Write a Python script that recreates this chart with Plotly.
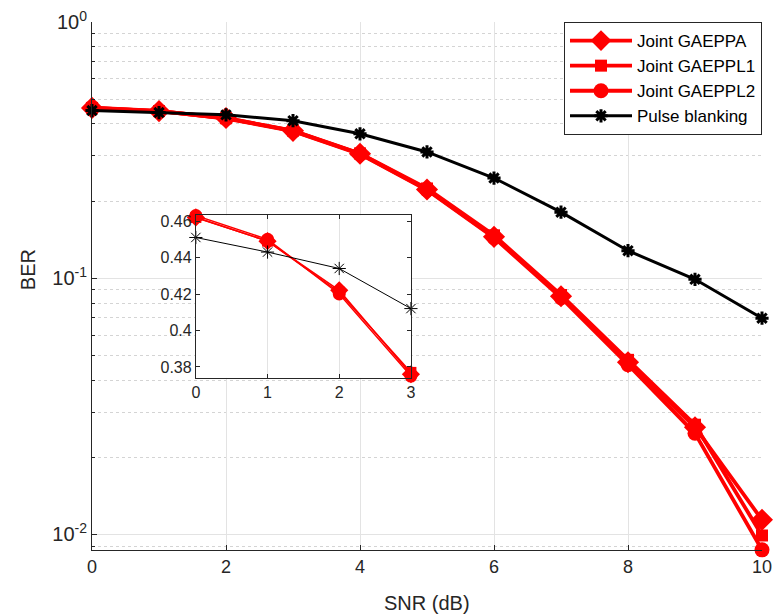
import plotly.graph_objects as go

snr = [0, 1, 2, 3, 4, 5, 6, 7, 8, 9, 10]
ber_gaeppa = [0.462, 0.449, 0.422, 0.376, 0.306, 0.222, 0.145, 0.085, 0.047, 0.0262, 0.0114]
ber_gaeppl1 = [0.462, 0.449, 0.421, 0.377, 0.307, 0.224, 0.147, 0.086, 0.048, 0.0268, 0.0099]
ber_gaeppl2 = [0.463, 0.450, 0.420, 0.375, 0.305, 0.221, 0.144, 0.084, 0.046, 0.0248, 0.0087]
ber_blank = [0.451, 0.443, 0.434, 0.412, 0.366, 0.311, 0.246, 0.181, 0.128, 0.099, 0.0698]

names = ["Joint GAEPPA", "Joint GAEPPL1", "Joint GAEPPL2", "Pulse blanking"]
series = [ber_gaeppa, ber_gaeppl1, ber_gaeppl2, ber_blank]
symbols = ["diamond", "square", "circle", "asterisk-open"]
colors = ["#ff0000", "#ff0000", "#ff0000", "#000000"]
main_sizes = [17, 12, 15, 11]
inset_sizes = [14, 11, 13, 11]

y_major = [1, 0.1, 0.01]
y_major_text = ["10<sup>0</sup>", "10<sup>-1</sup>", "10<sup>-2</sup>"]
y_minor = [m * d for d in (0.001, 0.01, 0.1) for m in range(2, 10)]
x_ticks = [0, 2, 4, 6, 8, 10]
inset_x_ticks = [0, 1, 2, 3]
inset_y_ticks = [0.38, 0.40, 0.42, 0.44, 0.46]
inset_y_text = ["0.38", "0.4", "0.42", "0.44", "0.46"]

fig = go.Figure()

for name, ys, sym, col, sz in zip(names, series, symbols, colors, main_sizes):
    is_black = col == "#000000"
    fig.add_trace(go.Scatter(
        x=snr, y=ys, name=name, mode="lines+markers", cliponaxis=False,
        line=dict(color=col, width=3 if is_black else 3.8),
        marker=dict(symbol=sym, size=sz, color=col,
                    line=dict(color=col, width=3 if is_black else 0)),
        xaxis="x", yaxis="y",
    ))

for name, ys, sym, col, sz in zip(names, series, symbols, colors, inset_sizes):
    is_black = col == "#000000"
    fig.add_trace(go.Scatter(
        x=snr[:4], y=ys[:4], name=name, mode="lines+markers", showlegend=False,
        cliponaxis=False,
        line=dict(color=col, width=1 if is_black else 1.5),
        marker=dict(symbol=sym, size=sz, color=col,
                    line=dict(color=col, width=1 if is_black else 0)),
        xaxis="x2", yaxis="y2",
    ))

axis_col = "#262626"
grid_col = "#e3e3e3"
font_family = "Liberation Sans, Arial, sans-serif"

fig.update_layout(
    width=773, height=614,
    margin=dict(l=92, r=11, t=22, b=64),
    paper_bgcolor="white", plot_bgcolor="white",
    font=dict(family=font_family, color=axis_col, size=18),
    xaxis=dict(
        domain=[0, 1], range=[0, 10], tickvals=x_ticks, automargin=False,
        showline=True, linecolor=axis_col, linewidth=1,
        ticks="inside", ticklen=5, tickcolor=axis_col,
        showgrid=True, gridcolor=grid_col, gridwidth=1, zeroline=False,
        tickfont=dict(size=18),
    ),
    yaxis=dict(
        domain=[0, 1], type="log", range=[-2.061, 0], automargin=False,
        tickvals=y_major, ticktext=y_major_text,
        showline=True, linecolor=axis_col, linewidth=1,
        ticks="inside", ticklen=5, tickcolor=axis_col,
        showgrid=True, gridcolor=grid_col, gridwidth=1, zeroline=False,
        minor=dict(tickmode="array", tickvals=y_minor, showgrid=True,
                   gridcolor="#d4d4d4", griddash="dot", gridwidth=1,
                   ticks="inside", ticklen=3, tickcolor=axis_col),
        tickfont=dict(size=20),
    ),
    xaxis2=dict(
        domain=[0.155, 0.476], anchor="y2", range=[0, 3], tickvals=inset_x_ticks,
        automargin=False,
        showline=True, mirror="ticks", linecolor=axis_col, linewidth=1,
        ticks="inside", ticklen=4, tickcolor=axis_col,
        showgrid=True, gridcolor=grid_col, zeroline=False,
        tickfont=dict(size=16),
    ),
    yaxis2=dict(
        domain=[0.326, 0.634], anchor="x2", range=[0.374, 0.4632],
        tickvals=inset_y_ticks, ticktext=inset_y_text, automargin=False,
        showline=True, mirror="ticks", linecolor=axis_col, linewidth=1,
        ticks="inside", ticklen=4, tickcolor=axis_col,
        showgrid=False, zeroline=False,
        tickfont=dict(size=16),
    ),
    legend=dict(
        x=1, y=1, xanchor="right", yanchor="top",
        bgcolor="white", bordercolor=axis_col, borderwidth=1,
        font=dict(size=17, color="#000000"),
        tracegroupgap=0, itemwidth=62,
    ),
    shapes=[dict(type="rect", xref="x2 domain", yref="y2 domain",
                 x0=0, x1=1, y0=0, y1=1, fillcolor="white",
                 line=dict(width=0), layer="below")],
    annotations=[
        dict(text="SNR (dB)", xref="paper", yref="paper", x=0.5, y=0,
             xanchor="center", yanchor="middle", yshift=-53, showarrow=False,
             font=dict(size=20, color=axis_col)),
        dict(text="BER", xref="paper", yref="paper", x=0, y=0.53,
             xanchor="center", yanchor="middle", xshift=-64, textangle=-90,
             showarrow=False, font=dict(size=20, color=axis_col)),
    ],
)

fig.write_html(
    "out.html",
    config={"displayModeBar": False},
    post_script="document.body.style.margin='0';document.body.style.overflow='hidden';",
)
